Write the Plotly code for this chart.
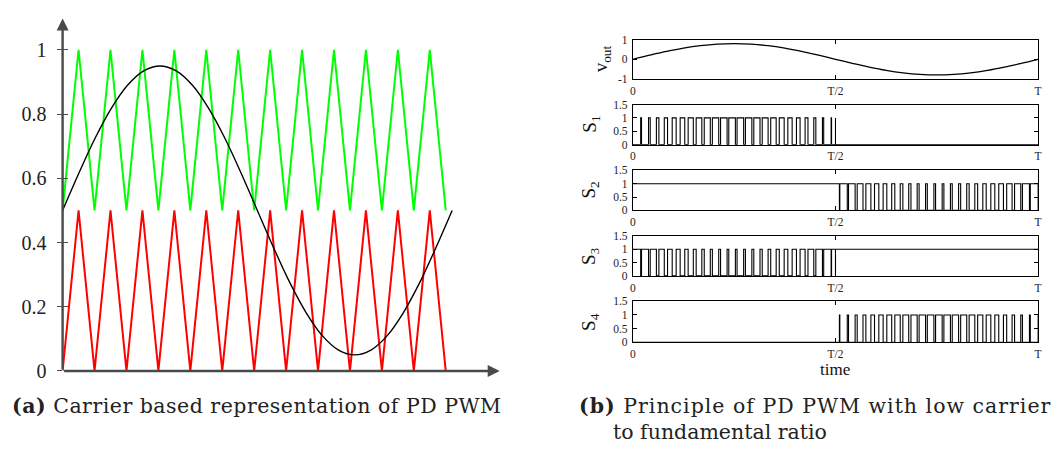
import plotly.graph_objects as go

W, H = 1063, 458

# ---------------- data: (a) carrier based representation ----------------
carrier_x = [0, 0.5, 1, 1.5, 2, 2.5, 3, 3.5, 4, 4.5, 5, 5.5, 6, 6.5, 7, 7.5,
             8, 8.5, 9, 9.5, 10, 10.5, 11, 11.5, 12]
upper_carrier = [0.5, 1, 0.5, 1, 0.5, 1, 0.5, 1, 0.5, 1, 0.5, 1, 0.5, 1, 0.5, 1,
                 0.5, 1, 0.5, 1, 0.5, 1, 0.5, 1, 0.5]
lower_carrier = [0, 0.5, 0, 0.5, 0, 0.5, 0, 0.5, 0, 0.5, 0, 0.5, 0, 0.5, 0, 0.5,
                 0, 0.5, 0, 0.5, 0, 0.5, 0, 0.5, 0]
ref_x = [0, 0.508, 1.017, 1.525, 2.033, 2.542, 3.05, 3.558, 4.067, 4.575, 5.083,
         5.592, 6.1, 6.608, 7.117, 7.625, 8.133, 8.642, 9.15, 9.658, 10.167,
         10.675, 11.183, 11.692, 12.2]
ref_y = [0.5, 0.616, 0.725, 0.818, 0.89, 0.935, 0.95, 0.935, 0.89, 0.818, 0.725,
         0.616, 0.5, 0.384, 0.275, 0.182, 0.11, 0.065, 0.05, 0.065, 0.11, 0.182,
         0.275, 0.384, 0.5]
a_yticks = [0, 0.2, 0.4, 0.6, 0.8, 1]
a_yticklabels = ["0", "0.2", "0.4", "0.6", "0.8", "1"]

# ---------------- data: (b) PD PWM switching signals ----------------
vout_t = [0, 0.0417, 0.0833, 0.125, 0.1667, 0.2083, 0.25, 0.2917, 0.3333, 0.375,
          0.4167, 0.4583, 0.5, 0.5417, 0.5833, 0.625, 0.6667, 0.7083, 0.75,
          0.7917, 0.8333, 0.875, 0.9167, 0.9583, 1.0]
vout_v = [0, 0.207, 0.4, 0.566, 0.693, 0.773, 0.8, 0.773, 0.693, 0.566, 0.4,
          0.207, 0, -0.207, -0.4, -0.566, -0.693, -0.773, -0.8, -0.773, -0.693,
          -0.566, -0.4, -0.207, 0]
carrier_periods = 49          # carrier periods per fundamental period T
# duty of each S1 pulse (carrier periods 1..24, positive half-cycle)
pulse_duty_pos = [0.102, 0.203, 0.300, 0.393, 0.478, 0.557, 0.625, 0.684, 0.732,
                  0.767, 0.790, 0.799, 0.796, 0.780, 0.751, 0.709, 0.657, 0.593,
                  0.521, 0.439, 0.347, 0.251, 0.151, 0.051]
# duty of each S4 pulse (carrier periods 25..48, negative half-cycle)
pulse_duty_neg = [0.051, 0.151, 0.251, 0.347, 0.439, 0.521, 0.593, 0.657, 0.709,
                  0.751, 0.780, 0.796, 0.799, 0.790, 0.767, 0.732, 0.684, 0.625,
                  0.557, 0.478, 0.393, 0.300, 0.203, 0.102]
b_xticks = [0, 0.5, 1]
b_xticklabels = ["0", "T/2", "T"]
s_yticks = [0, 0.5, 1, 1.5]
s_yticklabels = ["0", "0.5", "1", "1.5"]
v_yticks = [-1, 0, 1]
v_yticklabels = ["-1", "0", "1"]
panel_labels = ["v<sub>out</sub>", "S<sub>1</sub>", "S<sub>2</sub>", "S<sub>3</sub>", "S<sub>4</sub>"]


def pulse_train(first_index, duties):
    xs, ys = [], []
    p = 1.0 / carrier_periods
    for k, d in enumerate(duties):
        c = (first_index + k) * p
        w = d * p
        xs += [c - w / 2, c - w / 2, c + w / 2, c + w / 2]
        ys += [0, 1, 1, 0]
    return xs, ys


p1x, p1y = pulse_train(1, pulse_duty_pos)
s1_x = [0.0] + p1x + [0.5, 0.5, 0.5, 1.0]
s1_y = [0] + p1y + [0, 1, 0, 0]
p4x, p4y = pulse_train(1 + len(pulse_duty_pos), pulse_duty_neg)
s4_x = [0.0, 0.5] + p4x + [1.0, 1.0]
s4_y = [0, 0] + p4y + [0, 1]
s3_x, s3_y = s1_x, [1 - v for v in s1_y]
s2_x, s2_y = s4_x, [1 - v for v in s4_y]


def px_x(v):
    return v / W


def px_y(v):
    return 1 - v / H


fig = go.Figure()

# ---- (a)
AX = "#4a4a4a"
fig.add_trace(go.Scatter(x=carrier_x, y=upper_carrier, mode="lines",
                         line=dict(color="#00ff00", width=2), xaxis="x", yaxis="y"))
fig.add_trace(go.Scatter(x=carrier_x, y=lower_carrier, mode="lines",
                         line=dict(color="#ff0000", width=2), xaxis="x", yaxis="y"))
fig.add_trace(go.Scatter(x=ref_x, y=ref_y, mode="lines", line_shape="spline",
                         line=dict(color="black", width=1.4), xaxis="x", yaxis="y"))

xr_a = [0, 13.69]
yr_a = [0, 1.098]
layout = dict(
    width=W, height=H, margin=dict(l=0, r=0, t=0, b=0),
    paper_bgcolor="white", plot_bgcolor="white", showlegend=False,
    xaxis=dict(domain=[px_x(60), px_x(500)], range=xr_a, showgrid=False, zeroline=False,
               showline=False, showticklabels=False, ticks=""),
    yaxis=dict(domain=[px_y(379), px_y(13)], range=yr_a, showgrid=False, zeroline=False,
               showline=False, tickvals=a_yticks, ticktext=a_yticklabels,
               ticks="outside", ticklen=5, tickwidth=1.2, tickcolor=AX,
               ticklabelstandoff=6, anchor="x",
               tickfont=dict(family="Liberation Serif", size=20, color="#222")),
    yaxis7=dict(overlaying="y", range=yr_a, anchor="x", side="left", showgrid=False,
                zeroline=False, showline=False, tickvals=a_yticks, showticklabels=False,
                ticks="inside", ticklen=5, tickwidth=1.2, tickcolor=AX),
)
fig.add_trace(go.Scatter(x=[0], y=[0], mode="markers", marker=dict(size=1, opacity=0),
                         xaxis="x", yaxis="y7", hoverinfo="skip"))

annotations = [
    dict(x=0, y=yr_a[1], ax=0, ay=0, xref="x", yref="y", axref="x", ayref="y",
         text="", showarrow=True, arrowhead=2, arrowsize=1, arrowwidth=2.4, arrowcolor=AX,
         standoff=0, startstandoff=0),
    dict(x=xr_a[1], y=0, ax=0, ay=0, xref="x", yref="y", axref="x", ayref="y",
         text="", showarrow=True, arrowhead=2, arrowsize=1, arrowwidth=2.4, arrowcolor=AX,
         standoff=0, startstandoff=0),
]

# ---- (b)
panels = [(35, 75.7), (102.3, 144), (170.7, 212.3), (238.7, 280.3), (306.7, 349.3)]
series = [(vout_t, vout_v), (s1_x, s1_y), (s2_x, s2_y), (s3_x, s3_y), (s4_x, s4_y)]
tick_font = dict(family="Liberation Serif", size=11.5, color="#222")
for i, ((top, bot), (sx, sy)) in enumerate(zip(panels, series)):
    n = i + 2
    xa, ya = f"x{n}", f"y{n}"
    if i == 0:
        fig.add_trace(go.Scatter(x=sx, y=sy, mode="lines", line_shape="spline",
                                 line=dict(color="black", width=1.3), xaxis=xa, yaxis=ya))
        yr, yt, ytl = [-1, 1], v_yticks, v_yticklabels
    else:
        fig.add_trace(go.Scatter(x=sx, y=sy, mode="lines",
                                 line=dict(color="black", width=1.1), xaxis=xa, yaxis=ya))
        yr, yt, ytl = [0, 1.5], s_yticks, s_yticklabels
    layout[f"xaxis{n}"] = dict(domain=[px_x(634), px_x(1042)], range=[0, 1], anchor=ya,
                               showgrid=False, zeroline=False, showline=True, linecolor="black",
                               linewidth=1, mirror="ticks", ticks="inside", ticklen=4,
                               tickcolor="black", tickvals=b_xticks, ticktext=b_xticklabels,
                               ticklabelstandoff=1, tickfont=tick_font)
    layout[f"yaxis{n}"] = dict(domain=[px_y(bot), px_y(top)], range=yr, anchor=xa,
                               showgrid=False, zeroline=False, showline=True, linecolor="black",
                               linewidth=1, mirror="ticks", ticks="inside", ticklen=4,
                               tickcolor="black", tickvals=yt, ticktext=ytl,
                               ticklabelstandoff=2, tickfont=tick_font)
    annotations.append(dict(x=px_x(603 if i == 0 else 591), y=px_y((top + bot) / 2),
                            xref="paper", yref="paper", text=panel_labels[i], textangle=-90,
                            showarrow=False, xanchor="center", yanchor="middle",
                            font=dict(family="Liberation Serif", size=19, color="#111")))

annotations.append(dict(x=px_x(838), y=px_y(378), xref="paper", yref="paper", text="time",
                        showarrow=False, xanchor="center", yanchor="middle",
                        font=dict(family="Liberation Serif", size=17, color="#111")))

cap_font = dict(family="DejaVu Serif", size=20.5, color="#222")
annotations.append(dict(x=px_x(7), y=px_y(415), xref="paper", yref="paper",
                        text='<span style="letter-spacing:0.5px"><b>(a)</b> Carrier based '
                             'representation of PD PWM</span>',
                        showarrow=False, xanchor="left", yanchor="middle", font=cap_font))
annotations.append(dict(x=px_x(578), y=px_y(415), xref="paper", yref="paper",
                        text='<span style="letter-spacing:1px"><b>(b)</b> Principle of PD '
                             'PWM with low carrier</span>',
                        showarrow=False, xanchor="left", yanchor="middle", font=cap_font))
annotations.append(dict(x=px_x(612), y=px_y(442), xref="paper", yref="paper",
                        text="to fundamental ratio",
                        showarrow=False, xanchor="left", yanchor="middle", font=cap_font))

layout["annotations"] = annotations
fig.update_layout(**layout)
fig.write_html("out.html")
